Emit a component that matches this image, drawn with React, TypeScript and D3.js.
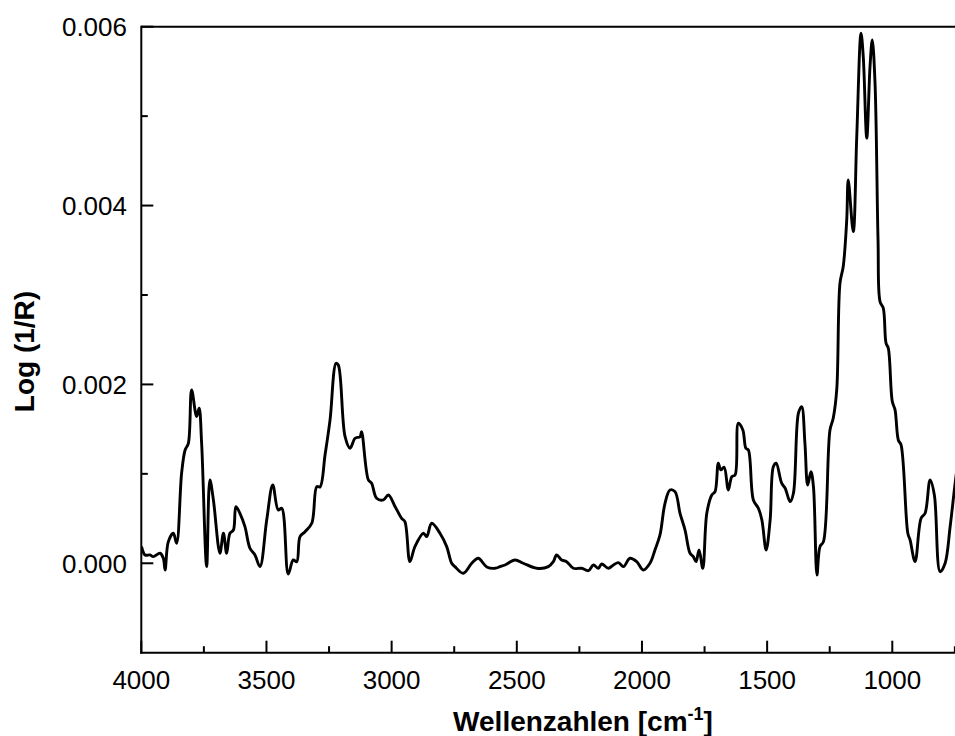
import React from "react";
import * as d3 from "d3";

// Wavenumber (cm^-1) of each traced point
const wavenumbers = [
  3999, 3985, 3965, 3952, 3925, 3912, 3905, 3892, 3872, 3859, 3839, 3825, 3812, 3799, 3779, 3769, 3759, 3739,
  3726, 3712, 3686, 3672, 3659, 3646, 3632, 3622, 3606, 3586, 3566, 3546, 3526, 3499, 3475, 3453, 3439, 3413,
  3393, 3379, 3366, 3346, 3319, 3299, 3286, 3266, 3246, 3222, 3213, 3186, 3166, 3146, 3126, 3120, 3093, 3080,
  3060, 3033, 3013, 2986, 2960, 2947, 2927, 2907, 2873, 2860, 2840, 2807, 2780, 2760, 2747, 2714, 2680, 2654,
  2620, 2587, 2567, 2547, 2507, 2474, 2420, 2374, 2354, 2341, 2321, 2301, 2274, 2241, 2214, 2194, 2174, 2161,
  2134, 2114, 2094, 2074, 2048, 2021, 1995, 1968, 1948, 1928, 1908, 1888, 1868, 1848, 1828, 1808, 1795, 1784,
  1772, 1757, 1741, 1721, 1708, 1695, 1685, 1672, 1655, 1641, 1628, 1615, 1597, 1585, 1575, 1555, 1535, 1521,
  1504, 1488, 1475, 1464, 1442, 1428, 1408, 1395, 1375, 1362, 1349, 1338, 1325, 1315, 1301, 1289, 1275, 1249,
  1236, 1222, 1209, 1196, 1182, 1176, 1156, 1142, 1125, 1116, 1102, 1089, 1080, 1069, 1057, 1049, 1036, 1025,
  1016, 1000, 989, 976, 965, 938, 929, 909, 885, 869, 849, 832, 809, 789, 769, 749, 729,
];

// Log(1/R) at each wavenumber
const absorbance = [
  0.000186, 0.000093, 0.000093, 0.000074, 0.000112, 0.000056, -0.000075, 0.000242, 0.000336, 0.000224, 0.001007,
  0.001267, 0.001342, 0.001938, 0.00164, 0.001734, 0.001342, -0.000038, 0.000932, 0.000708, 0.000112, 0.000336,
  0.000112, 0.000336, 0.000372, 0.000633, 0.000559, 0.000409, 0.000168, 0.000093, -0.000038, 0.000484, 0.000876,
  0.000596, 0.000615, -0.00012, 0.000037, 0.000018, 0.000298, 0.000353, 0.000447, 0.000857, 0.000853, 0.001211,
  0.001603, 0.002237, 0.002218, 0.001416, 0.001286, 0.001398, 0.001416, 0.001472, 0.000932, 0.000895, 0.000727,
  0.000708, 0.000764, 0.000633, 0.000503, 0.000465, 0.000018, 0.000186, 0.000336, 0.000298, 0.000447, 0.000336,
  0.000186, 0.0, -0.000038, -0.000112, 0.0, 0.000056, -0.000041, -0.000056, -0.000038, -0.000019, 0.000037, 0.0,
  -0.000056, -0.000038, 0.000018, 0.000093, 0.000037, 0.000018, -0.000056, -0.000056, -0.000083, -0.000019,
  -0.000056, -0.000008, -0.000056, -0.000019, 0.000007, -0.000038, 0.000056, 0.000018, -0.000075, 0.0, 0.000149,
  0.000317, 0.000671, 0.00082, 0.000801, 0.000559, 0.000372, 0.000112, 0.000074, 0.000018, 0.000149, -0.000056,
  0.000559, 0.000764, 0.000801, 0.001119, 0.001044, 0.001074, 0.00082, 0.000969, 0.000988, 0.001566, 0.001491,
  0.001286, 0.001267, 0.000708, 0.000615, 0.000484, 0.000149, 0.000484, 0.001081, 0.001119, 0.000895, 0.000839,
  0.000689, 0.000783, 0.001678, 0.001752, 0.001342, 0.000876, 0.001025, 0.000857, -0.000131, 0.000186, 0.000242,
  0.001491, 0.001622, 0.001938, 0.003132, 0.003318, 0.00384, 0.004287, 0.003709, 0.004772, 0.005928, 0.005667,
  0.004754, 0.005555, 0.005853, 0.005369, 0.003616, 0.002926, 0.002852, 0.002461, 0.002405, 0.001808, 0.001715,
  0.001379, 0.001323, 0.000336, 0.000261, 0.000018, 0.000503, 0.000559, 0.000932, 0.000764, -0.000094, 0.0,
  0.000409, 0.000895, 0.001342,
];

const xMajorTicks = [4000, 3500, 3000, 2500, 2000, 1500, 1000];
const xMinorTicks = [3750, 3250, 2750, 2250, 1750, 1250, 750];
const yMajorTicks = [0, 0.002, 0.004, 0.006];
const yMinorTicks = [0.001, 0.003, 0.005];
const yTickLabels = ["0.000", "0.002", "0.004", "0.006"];

const xTitle = "Wellenzahlen [cm";
const xTitleSup = "-1";
const yTitle = "Log (1/R)";

export default function App() {
  const W = 955;
  const H = 736;
  const left = 141.3;
  const top = 26.7;
  const bottom = 652.7;
  const pxPerUnit = (892.3 - 141.3) / 3000;

  const x = d3.scaleLinear().domain([4000, 700]).range([left, left + 3300 * pxPerUnit]);
  const y = d3.scaleLinear().domain([-0.001, 0.006]).range([bottom, top]);

  const n = Math.min(wavenumbers.length, absorbance.length);
  const pts: [number, number][] = [];
  for (let i = 0; i < n; i++) pts.push([wavenumbers[i], absorbance[i]]);

  const line = d3
    .line<[number, number]>()
    .x((d) => x(d[0]))
    .y((d) => y(d[1]))
    .curve(d3.curveCatmullRom.alpha(0.5));

  const font = "'Liberation Sans', Arial, Helvetica, sans-serif";
  const fs = 26;

  return (
    <svg
      width={W}
      height={H}
      style={{ position: "absolute", left: 0, top: 0, display: "block", background: "#fff" }}
    >
      <defs>
        <clipPath id="plotclip">
          <rect x={left} y={top - 4} width={W - left} height={bottom - top + 4} />
        </clipPath>
      </defs>
      <path
        d={line(pts) || ""}
        fill="none"
        stroke="#000"
        strokeWidth={2.9}
        strokeLinejoin="round"
        clipPath="url(#plotclip)"
      />
      {/* frame */}
      <line x1={left} x2={W} y1={top} y2={top} stroke="#000" strokeWidth={2} />
      <line x1={left} x2={left} y1={top - 1} y2={bottom + 1} stroke="#000" strokeWidth={2} />
      <line x1={left - 1} x2={W} y1={bottom} y2={bottom} stroke="#000" strokeWidth={2} />
      {/* x ticks */}
      {xMajorTicks.map((t) => (
        <g key={"xM" + t}>
          <line x1={x(t)} x2={x(t)} y1={bottom} y2={bottom - 12} stroke="#000" strokeWidth={2} />
          <text x={x(t)} y={688.5} textAnchor="middle" fontFamily={font} fontSize={fs} fill="#000">
            {t}
          </text>
        </g>
      ))}
      {xMinorTicks.map((t) => (
        <line key={"xm" + t} x1={x(t)} x2={x(t)} y1={bottom} y2={bottom - 6.5} stroke="#000" strokeWidth={2} />
      ))}
      {/* y ticks */}
      {yMajorTicks.map((t, i) => (
        <g key={"yM" + t}>
          <line x1={left} x2={left + 12} y1={y(t)} y2={y(t)} stroke="#000" strokeWidth={2} />
          <text
            x={127}
            y={y(t) + 0.358 * fs}
            textAnchor="end"
            fontFamily={font}
            fontSize={fs}
            fill="#000"
          >
            {yTickLabels[i]}
          </text>
        </g>
      ))}
      {yMinorTicks.map((t) => (
        <line key={"ym" + t} x1={left} x2={left + 6.5} y1={y(t)} y2={y(t)} stroke="#000" strokeWidth={2} />
      ))}
      {/* titles */}
      <text x={583} y={730.7} textAnchor="middle" fontFamily={font} fontSize={28} fontWeight="bold" fill="#000">
        {xTitle}
        <tspan fontSize={18} dy={-11}>
          {xTitleSup}
        </tspan>
        <tspan dy={11}>]</tspan>
      </text>
      <text
        transform="translate(33.5,351.5) rotate(-90)"
        textAnchor="middle"
        fontFamily={font}
        fontSize={28}
        fontWeight="bold"
        fill="#000"
      >
        {yTitle}
      </text>
    </svg>
  );
}
